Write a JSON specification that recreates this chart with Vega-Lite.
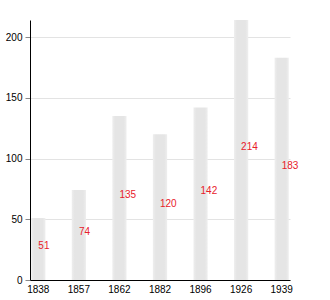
{
  "$schema": "https://vega.github.io/schema/vega-lite/v6.json",
  "width": 260,
  "height": 260,
  "autosize": {"type": "none"},
  "padding": {"left": 30, "top": 20, "right": 40, "bottom": 20},
  "background": "white",
  "config": {
    "view": {"stroke": null},
    "font": "Liberation Sans"
  },
  "data": {
    "values": [
      {"year": "1838", "value": 51},
      {"year": "1857", "value": 74},
      {"year": "1862", "value": 135},
      {"year": "1882", "value": 120},
      {"year": "1896", "value": 142},
      {"year": "1926", "value": 214},
      {"year": "1939", "value": 183}
    ]
  },
  "encoding": {
    "x": {
      "field": "year",
      "type": "nominal",
      "sort": null,
      "scale": {"paddingInner": 0.65, "paddingOuter": 0.03},
      "axis": {
        "title": null,
        "labelAngle": 0,
        "labelFontSize": 10,
        "labelColor": "#000",
        "domainColor": "#000",
        "ticks": false,
        "labelPadding": 4
      }
    }
  },
  "layer": [
    {
      "mark": {
        "type": "bar",
        "fill": {
          "gradient": "linear",
          "x1": 0, "x2": 1, "y1": 0, "y2": 0,
          "stops": [
            {"offset": 0, "color": "#eeeeee"},
            {"offset": 0.2, "color": "#e5e5e5"},
            {"offset": 0.8, "color": "#e5e5e5"},
            {"offset": 1, "color": "#eeeeee"}
          ]
        }
      },
      "encoding": {
        "y": {
          "field": "value",
          "type": "quantitative",
          "scale": {"domain": [0, 214], "nice": false},
          "axis": {
            "title": null,
            "values": [0, 50, 100, 150, 200],
            "labelFontSize": 10,
            "labelColor": "#000",
            "domainColor": "#000",
            "tickColor": "#888",
            "tickSize": 5,
            "gridColor": "#e3e3e3",
            "labelPadding": 3
          }
        }
      }
    },
    {
      "transform": [{"calculate": "datum.value / 2", "as": "mid"}],
      "mark": {
        "type": "text",
        "color": "#e8202a",
        "fontSize": 10,
        "align": "left",
        "baseline": "middle",
        "dx": 0,
        "dy": -3
      },
      "encoding": {
        "y": {"field": "mid", "type": "quantitative"},
        "text": {"field": "value", "type": "quantitative"}
      }
    }
  ]
}
